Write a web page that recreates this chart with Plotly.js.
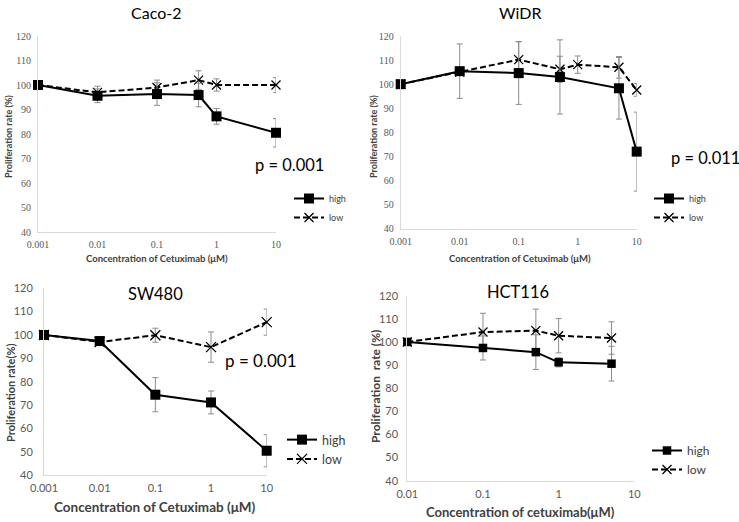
<!DOCTYPE html>
<html>
<head>
<meta charset="utf-8">
<script src="https://cdn.plot.ly/plotly-3.0.1.min.js"></script>
<style>html,body{margin:0;padding:0;background:#fff}#chart{width:739px;height:522px}</style>
</head>
<body>
<div id="chart"></div>
<script>
// ---- Data ----
const decadeTicks = [0.001, 0.01, 0.1, 1, 10];
const decadeLabels = ['0.001', '0.01', '0.1', '1', '10'];
const hctTicks = [0.01, 0.1, 1, 10];
const hctLabels = ['0.01', '0.1', '1', '10'];

const panelTitles = ['Caco-2', 'WiDR', 'SW480', 'HCT116'];
const pValues = ['p = 0.001', 'p = 0.011', 'p = 0.001', null];
const seriesNames = ['high', 'low'];

// Caco-2
const cacoX = [0.001, 0.01, 0.1, 0.5, 1, 10];
const cacoHigh = [100, 95.6, 96.3, 95.9, 87.2, 80.5];
const cacoHighErr = [0, 2.8, 4.6, 4.8, 3.2, 5.8];
const cacoLow = [100, 97, 99, 102, 100, 100];
const cacoLowErr = [0, 2.5, 3, 3.8, 2.5, 3];

// WiDR
const widrHighX = [0.001, 0.01, 0.1, 0.5, 5, 10];
const widrHigh = [100, 105.4, 104.6, 103, 98.3, 72];
const widrHighErr = [0, 11.3, 13, 15.4, 12.8, 16.4];
const widrLowX = [0.001, 0.01, 0.1, 0.5, 1, 5, 10];
const widrLow = [100, 105, 110.2, 106.2, 108.1, 107, 97.6];
const widrLowErr = [0, 1, 7.5, 5.4, 3.6, 4.5, 2.6];

// SW480
const swX = [0.001, 0.01, 0.1, 1, 10];
const swHigh = [100, 97.4, 74.4, 71.1, 50.4];
const swHighErr = [0, 1, 7.3, 4.9, 6.9];
const swLow = [100, 97, 99.9, 94.8, 105.5];
const swLowErr = [0, 0.5, 3, 6.5, 5.6];

// HCT116
const hctX = [0.01, 0.1, 0.5, 1, 5];
const hctHigh = [100, 97.4, 95.6, 91.2, 90.6];
const hctHighErr = [0, 5.2, 7.5, 2, 7.5];
const hctLow = [100, 104.3, 104.9, 102.7, 101.7];
const hctLowErr = [0, 8.1, 9.3, 7.4, 7];

// ---- Styling helpers ----
const W = 739, H = 522;
const px = v => v / W;
const py = v => 1 - v / H;
const errColor = '#8c8c8c';

function seriesTrace(kind, x, y, err, idx, sizeSq, sizeX) {
  const isHigh = kind === 'high';
  const sfx = idx === 1 ? '' : String(idx);
  return {
    type: 'scatter', mode: 'lines+markers',
    name: kind, x: x, y: y,
    xaxis: 'x' + sfx, yaxis: 'y' + sfx,
    legend: idx === 1 ? 'legend' : 'legend' + idx,
    line: isHigh ? {color: '#000', width: 2} : {color: '#000', width: 2, dash: '6px,3px'},
    marker: isHigh
      ? {symbol: 'square', size: sizeSq, color: '#000'}
      : {symbol: 'x-thin-open', size: sizeX, color: '#000', line: {color: '#000', width: 1.3}},
    error_y: {type: 'data', array: err, visible: true, color: errColor, thickness: 1, width: 3},
    cliponaxis: false,
    hoverinfo: 'x+y'
  };
}

const data = [
  seriesTrace('low', cacoX, cacoLow, cacoLowErr, 1, 10, 9),
  seriesTrace('high', cacoX, cacoHigh, cacoHighErr, 1, 10, 9),
  seriesTrace('low', widrLowX, widrLow, widrLowErr, 2, 10, 9),
  seriesTrace('high', widrHighX, widrHigh, widrHighErr, 2, 10, 9),
  seriesTrace('low', swX, swLow, swLowErr, 3, 10, 10),
  seriesTrace('high', swX, swHigh, swHighErr, 3, 10, 10),
  seriesTrace('low', hctX, hctLow, hctLowErr, 4, 8.5, 9),
  seriesTrace('high', hctX, hctHigh, hctHighErr, 4, 8.5, 9)
];

const topTick = {family: 'Liberation Serif, serif', size: 10, color: '#595959'};
const botTick = {family: 'Lato, sans-serif', size: 11, color: '#595959'};

function xAxis(dom, anchor, range, tv, tt, font) {
  return {domain: dom, anchor: anchor, type: 'log', range: range, tickvals: tv, ticktext: tt,
    showline: true, linecolor: '#d9d9d9', linewidth: 1, showgrid: false, zeroline: false,
    ticks: '', tickfont: font, ticklabelstandoff: 3, fixedrange: true};
}
function yAxis(dom, anchor, font, standoff) {
  return {domain: dom, anchor: anchor, range: [40, 120], dtick: 10, tick0: 40,
    showline: true, linecolor: '#d9d9d9', linewidth: 1, showgrid: false, zeroline: false,
    ticks: '', tickfont: font, ticklabelstandoff: standoff, fixedrange: true};
}

function legendAt(x, y, size) {
  return {x: px(x), y: py(y), xanchor: 'left', yanchor: 'top', bgcolor: 'rgba(0,0,0,0)',
    font: {family: 'Lato, sans-serif', size: size, color: '#404040'},
    traceorder: 'reversed', itemwidth: 30, tracegroupgap: 0};
}

const ann = [];
function txt(text, x, y, size, opts) {
  ann.push(Object.assign({text: text, x: px(x), y: py(y), xref: 'paper', yref: 'paper',
    showarrow: false, xanchor: 'center', yanchor: 'middle',
    font: {family: 'Lato, sans-serif', size: size, color: '#000'}}, opts || {}));
}
function boldFont(size) {
  return {font: {family: 'Lato, sans-serif', size: size, color: '#404040', weight: 'bold'}};
}
// panel titles
txt(panelTitles[0], 156, 13, 16);
txt(panelTitles[1], 520, 13, 16);
txt(panelTitles[2], 155, 294, 16.5);
txt(panelTitles[3], 518, 292, 16.5);
// p-values
txt(pValues[0], 289, 165, 16.5);
txt(pValues[1], 705, 158, 16.5);
txt(pValues[2], 261, 360, 17);
// axis titles
txt('Concentration of Cetuximab (μM)', 157, 258, 9.5, boldFont(9.5));
txt('Concentration of Cetuximab (μM)', 520, 258, 9.5, boldFont(9.5));
txt('Concentration of Cetuximab (μM)', 155, 507, 13.5, boldFont(13.5));
txt('Concentration of cetuximab(μM)', 520, 512, 13, boldFont(13));
txt('Proliferation rate (%)', 8, 137, 9, Object.assign({textangle: -90}, boldFont(9)));
txt('Proliferation rate (%)', 373, 137, 9, Object.assign({textangle: -90}, boldFont(9)));
txt('Proliferation rate(%)', 10, 393, 11, Object.assign({textangle: -90}, boldFont(11)));
txt('Proliferation  rate (%)', 375, 387, 12, Object.assign({textangle: -90}, boldFont(12)));

const layout = {
  width: W, height: H,
  margin: {l: 0, r: 0, t: 0, b: 0},
  paper_bgcolor: '#fff', plot_bgcolor: 'rgba(0,0,0,0)',
  showlegend: true,
  xaxis: xAxis([px(38), px(276)], 'y', [-3, 1], decadeTicks, decadeLabels, topTick),
  yaxis: yAxis([py(232), py(36)], 'x', topTick, 4),
  xaxis2: xAxis([px(400.7), px(636.7)], 'y2', [-3, 1], decadeTicks, decadeLabels, topTick),
  yaxis2: yAxis([py(228.7), py(36)], 'x2', topTick, 4),
  xaxis3: xAxis([px(44), px(266.7)], 'y3', [-3, 1], decadeTicks, decadeLabels, botTick),
  yaxis3: yAxis([py(475), py(288.3)], 'x3', botTick, 8),
  xaxis4: xAxis([px(407.3), px(634.3)], 'y4', [-2, 1], hctTicks, hctLabels, botTick),
  yaxis4: yAxis([py(480.7), py(295.7)], 'x4', botTick, 6),
  legend: legendAt(289, 184, 9),
  legend2: legendAt(649, 184, 9),
  legend3: legendAt(282, 425, 12.5),
  legend4: legendAt(647, 436, 12),
  annotations: ann
};

Plotly.newPlot('chart', data, layout, {displayModeBar: false, staticPlot: true});
</script>
</body>
</html>
